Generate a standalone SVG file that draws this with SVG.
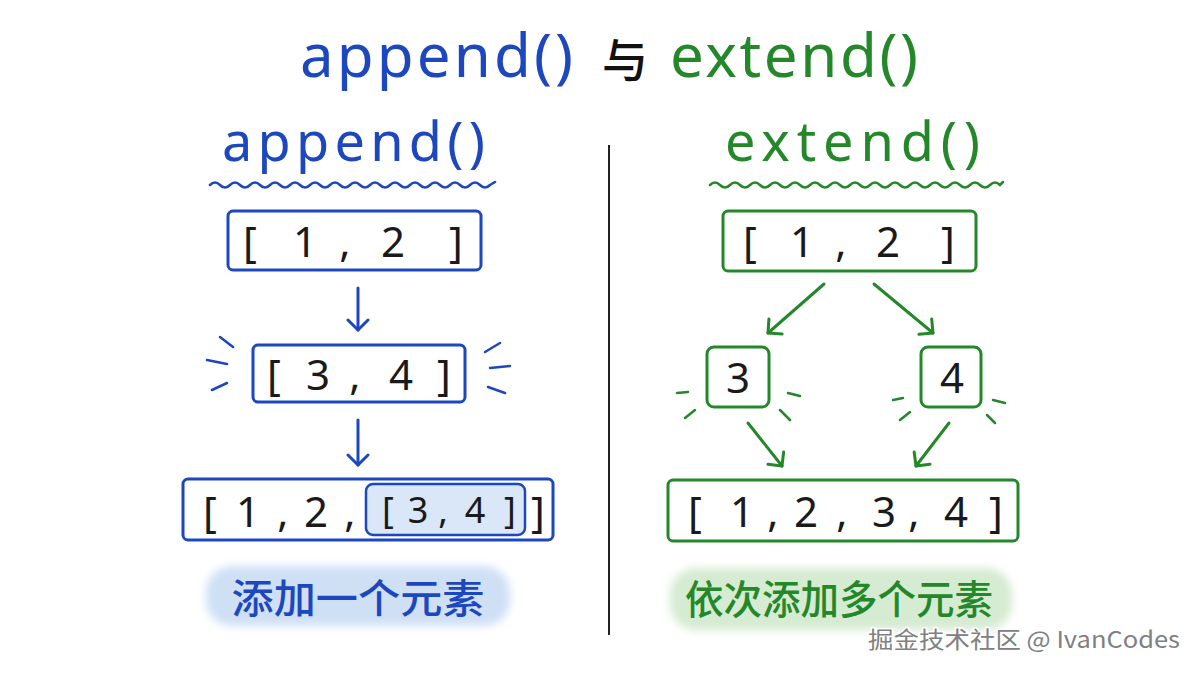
<svg xmlns="http://www.w3.org/2000/svg" width="1200" height="675" viewBox="0 0 1200 675">
<defs>
<style>
.bl{fill:#1d47bf}.gr{fill:#24882a}
.t{font-family:"Noto Sans","Open Sans",sans-serif;font-weight:400}
.h1{font-size:60px}.h2{font-size:54px}
.d{font-family:"Noto Sans","Open Sans",sans-serif;font-size:42px;fill:#1a1a1a;text-anchor:middle;font-weight:400}
.di{font-size:36px}
.bbox{fill:#fff;stroke:#1d47bf;stroke-width:3}
.gbox{fill:#fff;stroke:#24882a;stroke-width:3}
.bs{stroke:#1d47bf;stroke-width:3;fill:none;stroke-linecap:round}
.gs{stroke:#24882a;stroke-width:3;fill:none;stroke-linecap:round}
.cj{font-family:"Noto Sans CJK SC",sans-serif;font-size:40px;text-anchor:middle;font-weight:500}
</style>
<marker id="ab" viewBox="0 0 24 24" refX="12" refY="12" markerWidth="24" markerHeight="24" markerUnits="userSpaceOnUse" orient="auto">
<path d="M2,2 L12,12 L2,22" fill="none" stroke="#1d47bf" stroke-width="3" stroke-linecap="round" stroke-linejoin="round"/>
</marker>
<marker id="ag" viewBox="0 0 24 24" refX="12" refY="12" markerWidth="24" markerHeight="24" markerUnits="userSpaceOnUse" orient="auto">
<path d="M2,2 L12,12 L2,22" fill="none" stroke="#24882a" stroke-width="3" stroke-linecap="round" stroke-linejoin="round"/>
</marker>
<filter id="soft" x="-10%" y="-30%" width="120%" height="160%"><feGaussianBlur stdDeviation="4"/></filter>
</defs>
<rect width="1200" height="675" fill="#fff"/>

<g id="title">
<text x="300" y="77" class="t h1 bl" textLength="273" lengthAdjust="spacing">append()</text>
<text x="625" y="77" class="cj" style="font-size:46px;fill:#111">与</text>
<text x="670" y="77" class="t h1 gr" textLength="248" lengthAdjust="spacing">extend()</text>
</g>

<g id="headings">
<text x="222" y="161" class="t h2 bl" textLength="263" lengthAdjust="spacing">append()</text>
<path class="bs" d="M210,185 q5,-5 10,0 t10,0 t10,0 t10,0 t10,0 t10,0 t10,0 t10,0 t10,0 t10,0 t10,0 t10,0 t10,0 t10,0 t10,0 t10,0 t10,0 t10,0 t10,0 t10,0 t10,0 t10,0 t10,0 t10,0 t10,0 t10,0 t10,0 t10,0 L495,182" style="stroke-width:2.5"/>
<text x="725" y="161" class="t h2 gr" textLength="255" lengthAdjust="spacing">extend()</text>
<path class="gs" d="M710,185 q5,-5 10,0 t10,0 t10,0 t10,0 t10,0 t10,0 t10,0 t10,0 t10,0 t10,0 t10,0 t10,0 t10,0 t10,0 t10,0 t10,0 t10,0 t10,0 t10,0 t10,0 t10,0 t10,0 t10,0 t10,0 t10,0 t10,0 t10,0 t10,0 t10,0 L1003,182" style="stroke-width:2.5"/>
</g>

<line id="divider" x1="609" y1="145" x2="609" y2="635" stroke="#222" stroke-width="2"/>

<g id="connectors">
<line class="bs" x1="358" y1="288" x2="358" y2="330" marker-end="url(#ab)"/>
<line class="bs" x1="358" y1="420" x2="358" y2="465" marker-end="url(#ab)"/>
<line class="gs" x1="824" y1="284" x2="768" y2="333" marker-end="url(#ag)"/>
<line class="gs" x1="874" y1="284" x2="933" y2="333" marker-end="url(#ag)"/>
<line class="gs" x1="748" y1="423" x2="782" y2="466" marker-end="url(#ag)"/>
<line class="gs" x1="949" y1="423" x2="916" y2="466" marker-end="url(#ag)"/>
</g>

<g id="a-box1">
<rect class="bbox" x="228" y="211" width="253" height="59" rx="5"/>
<text class="d" y="257"><tspan x="250">[</tspan><tspan x="305">1</tspan><tspan x="345">,</tspan><tspan x="393">2</tspan><tspan x="456">]</tspan></text>
</g>

<g id="a-box2">
<rect class="bbox" x="253" y="345" width="212" height="57" rx="5"/>
<text class="d" y="390"><tspan x="274">[</tspan><tspan x="318">3</tspan><tspan x="355">,</tspan><tspan x="401">4</tspan><tspan x="444">]</tspan></text>
<path class="bs" d="M220,337 L233,347 M207,360 L227,364 M212,390 L227,383 M485,352 L500,343 M490,368 L510,366 M488,387 L505,393" style="stroke-width:2.5"/>
</g>

<g id="a-box3">
<rect class="bbox" x="183" y="479" width="370" height="61" rx="5"/>
<rect x="366" y="484" width="159" height="51" rx="7" fill="#d9e7f8" stroke="#1d47bf" stroke-width="2.5"/>
<text class="d" y="527"><tspan x="210">[</tspan><tspan x="248">1</tspan><tspan x="283">,</tspan><tspan x="316">2</tspan><tspan x="350">,</tspan><tspan x="538">]</tspan></text>
<text class="d di" y="523"><tspan x="388">[</tspan><tspan x="418">3</tspan><tspan x="443">,</tspan><tspan x="475">4</tspan><tspan x="510">]</tspan></text>
</g>

<g id="a-label">
<rect x="206" y="566" width="304" height="60" rx="26" fill="#cfe0f5" filter="url(#soft)"/>
<text x="358" y="613" class="cj bl" textLength="253" lengthAdjust="spacingAndGlyphs">添加一个元素</text>
</g>

<g id="e-box1">
<rect class="gbox" x="723" y="211" width="253" height="60" rx="5"/>
<text class="d" y="257"><tspan x="750">[</tspan><tspan x="802">1</tspan><tspan x="841">,</tspan><tspan x="888">2</tspan><tspan x="948">]</tspan></text>
</g>

<g id="e-box3">
<rect class="gbox" x="707" y="347" width="62" height="60" rx="7"/>
<text class="d" x="738" y="393">3</text>
<path class="gs" d="M677,393 L688,392 M685,418 L695,410 M788,393 L800,396 M780,410 L790,420" style="stroke-width:2.5"/>
</g>

<g id="e-box4">
<rect class="gbox" x="921" y="347" width="60" height="60" rx="7"/>
<text class="d" x="952" y="393">4</text>
<path class="gs" d="M893,400 L903,398 M900,420 L910,412 M993,400 L1005,403 M987,415 L995,423" style="stroke-width:2.5"/>
</g>

<g id="e-result">
<rect class="gbox" x="668" y="480" width="350" height="61" rx="5"/>
<text class="d" y="527"><tspan x="695">[</tspan><tspan x="742">1</tspan><tspan x="773">,</tspan><tspan x="806">2</tspan><tspan x="842">,</tspan><tspan x="884">3</tspan><tspan x="914">,</tspan><tspan x="956">4</tspan><tspan x="996">]</tspan></text>
</g>

<g id="e-label">
<rect x="670" y="568" width="342" height="62" rx="26" fill="#d5ebd2" filter="url(#soft)"/>
<text x="839" y="614" class="cj gr" textLength="308" lengthAdjust="spacingAndGlyphs">依次添加多个元素</text>
</g>

<text id="watermark" x="868" y="648" font-family="'Noto Sans CJK SC',sans-serif" font-size="23" fill="#808080" stroke="#fff" stroke-width="3" paint-order="stroke" textLength="312" lengthAdjust="spacingAndGlyphs">掘金技术社区 @ IvanCodes</text>
</svg>
